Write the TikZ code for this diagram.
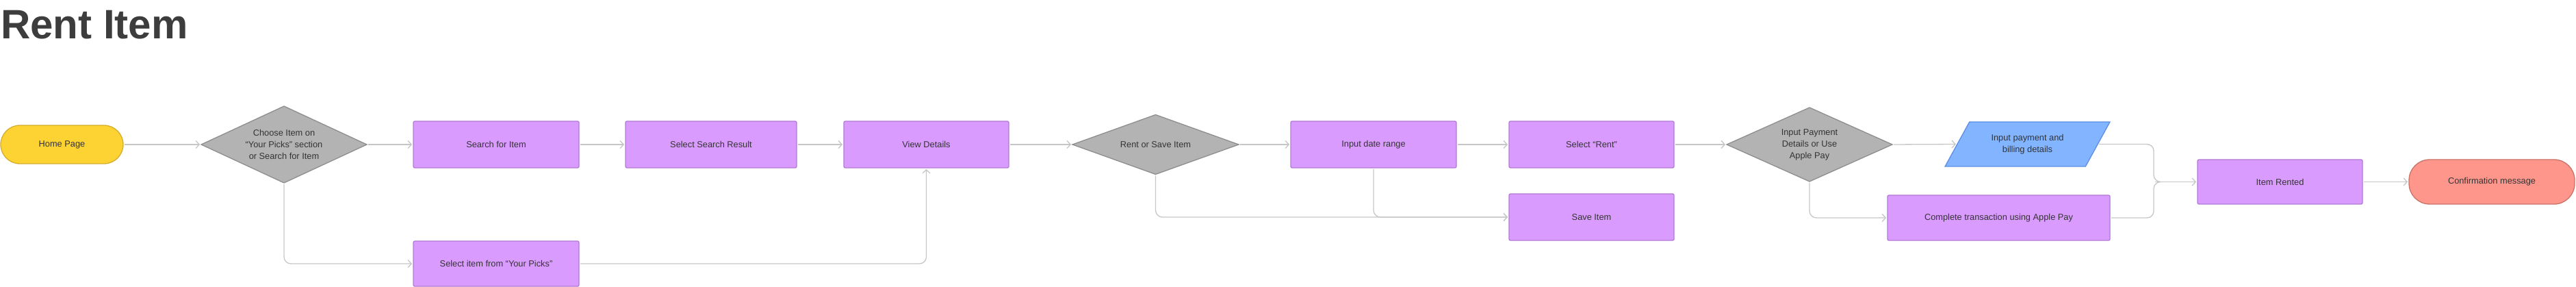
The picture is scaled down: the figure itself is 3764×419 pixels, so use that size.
\documentclass[tikz,border=0pt]{standalone}
\usepackage{fontspec}
\setmainfont{Liberation Sans}
\usetikzlibrary{shapes.geometric,arrows.meta,calc}
\definecolor{procF}{HTML}{DA9BFE}
\definecolor{procB}{HTML}{B27AD6}
\definecolor{decF}{HTML}{B3B3B3}
\definecolor{decB}{HTML}{8E8E8E}
\definecolor{startF}{HTML}{FDD233}
\definecolor{startB}{HTML}{D5AE2C}
\definecolor{endF}{HTML}{FF968B}
\definecolor{endB}{HTML}{C97268}
\definecolor{ioF}{HTML}{82B4FF}
\definecolor{ioB}{HTML}{5C8FE3}
\definecolor{lineC}{HTML}{C6C6C6}
\definecolor{txt}{HTML}{333333}
\definecolor{titleC}{HTML}{3D3D3D}
\tikzset{
  base/.style={inner sep=0pt, outer sep=0pt, line width=1.3pt, text=txt, align=center,
    font=\fontsize{12.8}{17}\selectfont},
  proc/.style={base, draw=procB, fill=procF, rounded corners=2pt, minimum height=68pt},
  dec/.style={base, shape=diamond, draw=decB, fill=decF, aspect=2.2},
  pill/.style={base, rounded corners=28pt, minimum height=56pt},
  io/.style={base, trapezium, trapezium left angle=52.4, trapezium right angle=127.6,
    trapezium stretches=true, draw=ioB, fill=ioF, minimum height=65pt, minimum width=241pt},
  conn/.style={draw=lineC, line width=1.3pt, rounded corners=10pt,
    -{Straight Barb[length=5pt,width=11pt]}, shorten <=2pt, shorten >=2pt},
  link/.style={draw=lineC, line width=1.3pt, rounded corners=10pt, shorten <=2pt}
}
\begin{document}
\begin{tikzpicture}[x=1pt,y=-1pt]
\useasboundingbox (0,0) rectangle (3764,419);
\node[anchor=base west, inner sep=0pt, text=titleC, font=\fontsize{60}{70}\selectfont\bfseries] (title) at (1,57) {Rent Item};

\node[pill, draw=startB, fill=startF, minimum width=179pt] (home) at (90.5,211) {Home Page};
\node[dec, minimum width=242pt, minimum height=112pt] (d1) at (415,211) {Choose Item on\\“Your Picks” section\\or Search for Item};
\node[proc, minimum width=242pt] (search) at (725,211) {Search for Item};
\node[proc, minimum width=250pt] (result) at (1039,211) {Select Search Result};
\node[proc, minimum width=241pt] (view) at (1353.5,211) {View Details};
\node[proc, minimum width=242pt, minimum height=66pt] (picks) at (725,385) {Select item from “Your Picks”};
\node[dec, minimum width=243pt, minimum height=87pt] (d2) at (1688.5,211) {Rent or Save Item};
\node[proc, minimum width=242pt] (date) at (2007,211) {Input date range};
\node[proc, minimum width=241pt] (rent) at (2325.5,211) {Select “Rent”};
\node[proc, minimum width=241pt] (save) at (2325.5,317) {Save Item};
\node[dec, minimum width=242pt, minimum height=108pt] (d3) at (2644,211) {Input Payment\\Details or Use\\Apple Pay};
\node[io] (pay) at (2962.5,210.5) {Input payment and\\billing details};
\node[proc, minimum width=325pt, minimum height=66pt] (apple) at (2920.5,318) {Complete transaction using Apple Pay};
\node[proc, minimum width=241pt, minimum height=65pt] (item) at (3331.5,265.5) {Item Rented};
\node[pill, draw=endB, fill=endF, minimum width=242pt, minimum height=65pt, rounded corners=30pt] (conf) at (3641,265.5) {Confirmation message};

\coordinate (payL) at ($(pay.top left corner)!0.5!(pay.bottom left corner)$);
\coordinate (payR) at ($(pay.top right corner)!0.5!(pay.bottom right corner)$);
\coordinate (join) at (3147,265.5);

\draw[conn] (home.east) -- (d1.west);
\draw[conn] (d1.east) -- (search.west);
\draw[conn] (d1.south) |- (picks.west);
\draw[conn] (search.east) -- (result.west);
\draw[conn] (result.east) -- (view.west);
\draw[conn] (picks.east) -| (view.south);
\draw[conn] (view.east) -- (d2.west);
\draw[conn] (d2.east) -- (date.west);
\draw[conn] (d2.south) |- (save.west);
\draw[conn] (date.south) |- (save.west);
\draw[conn] (date.east) -- (rent.west);
\draw[conn] (rent.east) -- (d3.west);
\draw[conn] (d3.east) -- (payL);
\draw[conn] (d3.south) |- (apple.west);
\draw[link] (payR) -| (join) -- ++(10,0);
\draw[link] (apple.east) -| (join) -- ++(10,0);
\draw[conn] (join) -- (item.west);
\draw[conn] (item.east) -- (conf.west);
\end{tikzpicture}
\end{document}
